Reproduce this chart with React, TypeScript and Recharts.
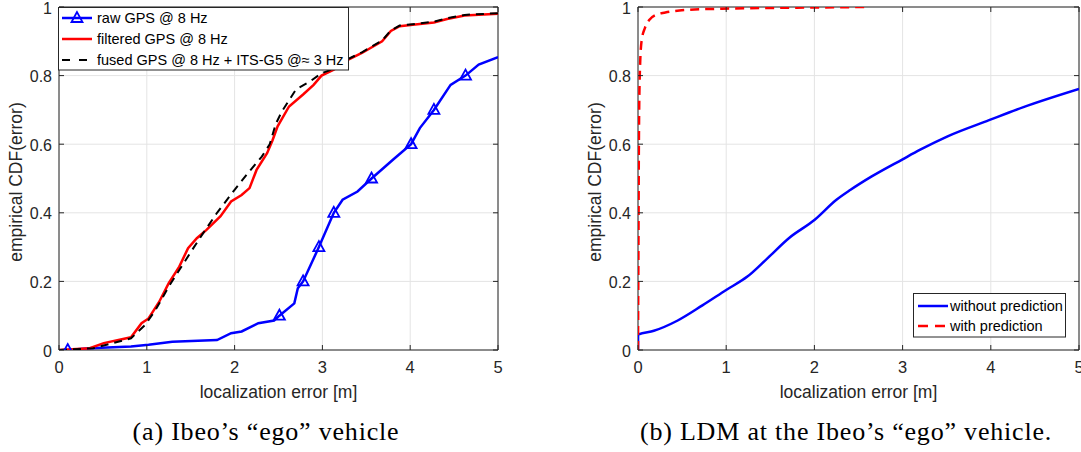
import React from "react";
import {
  ComposedChart,
  Line,
  XAxis,
  YAxis,
  CartesianGrid,
  ReferenceArea,
} from "recharts";

// (a) Ibeo's "ego" vehicle
const rawErr = [0.1, 0.35, 0.82, 1.02, 1.29, 1.8, 1.96, 2.08, 2.27, 2.45, 2.51, 2.68, 2.72, 2.78, 2.96, 3.13, 3.23, 3.4, 3.56, 3.8, 4.01, 4.11, 4.27, 4.46, 4.63, 4.78, 5.0];
const rawCdf = [0, 0.005, 0.01, 0.015, 0.024, 0.029, 0.049, 0.054, 0.078, 0.086, 0.1, 0.136, 0.18, 0.2, 0.3, 0.4, 0.438, 0.462, 0.5, 0.554, 0.6, 0.647, 0.7, 0.773, 0.8, 0.832, 0.854];
const rawMarkErr = [0.1, 2.51, 2.78, 2.96, 3.13, 3.56, 4.01, 4.27, 4.63];
const rawMarkCdf = [0, 0.1, 0.2, 0.3, 0.4, 0.5, 0.6, 0.7, 0.8];

const filtErr = [0, 0.35, 0.51, 0.82, 0.94, 1.02, 1.14, 1.25, 1.37, 1.47, 1.57, 1.68, 1.84, 1.96, 2.08, 2.17, 2.25, 2.37, 2.43, 2.49, 2.62, 2.78, 2.9, 2.99, 3.13, 3.29, 3.45, 3.68, 3.78, 3.88, 4.03, 4.27, 4.42, 4.62, 5.0];
const filtCdf = [0, 0.005, 0.02, 0.037, 0.078, 0.092, 0.14, 0.195, 0.243, 0.297, 0.326, 0.35, 0.39, 0.433, 0.452, 0.472, 0.525, 0.574, 0.61, 0.652, 0.71, 0.745, 0.773, 0.8, 0.817, 0.846, 0.866, 0.9, 0.93, 0.944, 0.948, 0.955, 0.965, 0.975, 0.98];

const fusedErr = [0, 0.39, 0.82, 0.98, 1.1, 1.25, 1.37, 1.53, 1.64, 1.8, 2.0, 2.15, 2.31, 2.4, 2.47, 2.54, 2.7, 2.86, 2.99, 3.13, 3.29, 3.45, 3.68, 3.78, 3.88, 4.03, 4.27, 4.42, 4.62, 5.0];
const fusedCdf = [0, 0.005, 0.034, 0.073, 0.117, 0.185, 0.233, 0.297, 0.34, 0.4, 0.467, 0.515, 0.564, 0.6, 0.66, 0.696, 0.76, 0.783, 0.807, 0.82, 0.848, 0.868, 0.902, 0.932, 0.946, 0.95, 0.957, 0.967, 0.977, 0.982];

// (b) LDM at the Ibeo's "ego" vehicle
const noPredErr = [0, 0.001, 0.18, 0.45, 0.73, 1.0, 1.24, 1.47, 1.71, 2.0, 2.25, 2.41, 2.65, 3.0, 3.2, 3.51, 3.98, 4.37, 5.0];
const noPredCdf = [0, 0.045, 0.056, 0.086, 0.13, 0.175, 0.214, 0.268, 0.326, 0.379, 0.438, 0.467, 0.506, 0.556, 0.584, 0.623, 0.67, 0.708, 0.761];

const predErr = [0, 0.005, 0.01, 0.02, 0.04, 0.08, 0.13, 0.2, 0.31, 0.58, 0.95, 1.8, 2.6];
const predCdf = [0, 0.3, 0.6, 0.8, 0.9, 0.94, 0.963, 0.977, 0.984, 0.992, 0.995, 0.998, 1.0];

const xTicks = [0, 1, 2, 3, 4, 5];
const yTicks = [0, 0.2, 0.4, 0.6, 0.8, 1];

const toPoints = (xs: number[], ys: number[]) => xs.map((x, i) => ({ x, y: ys[i] }));

const SANS = "'Liberation Sans', Arial, Helvetica, sans-serif";
const SERIF = "'Liberation Serif', 'Times New Roman', serif";
const INK = "#262626";
const PLOT_TOP = 7;
const PLOT_BOTTOM = 350;
const X_AXIS_H = 30;
const Y_AXIS_W = 50;

function Triangle({ cx, cy }: { cx: number; cy: number }) {
  return (
    <polygon
      points={`${cx},${cy - 6} ${cx - 5.5},${cy + 4} ${cx + 5.5},${cy + 4}`}
      fill="none"
      stroke="#0000ff"
      strokeWidth={1.8}
    />
  );
}

type PanelProps = {
  left: number;
  width: number;
  plotLeft: number;
  plotRight: number;
  children: React.ReactNode;
};

function CdfPanel({ left, width, plotLeft, plotRight, children }: PanelProps) {
  const xTick = (p: any) => (
    <g key={`xt-${p.payload.value}`}>
      <line x1={p.x} x2={p.x} y1={PLOT_BOTTOM} y2={PLOT_BOTTOM - 5} stroke={INK} />
      <line x1={p.x} x2={p.x} y1={PLOT_TOP} y2={PLOT_TOP + 5} stroke={INK} />
      <text x={p.x} y={373} textAnchor="middle" fontSize={16.5} fontFamily={SANS} fill={INK}>
        {String(p.payload.value)}
      </text>
    </g>
  );
  const yTick = (p: any) => (
    <g key={`yt-${p.payload.value}`}>
      <line x1={plotLeft} x2={plotLeft + 5} y1={p.y} y2={p.y} stroke={INK} />
      <line x1={plotRight} x2={plotRight - 5} y1={p.y} y2={p.y} stroke={INK} />
      <text x={plotLeft - 7} y={p.y + 6.5} textAnchor="end" fontSize={16} fontFamily={SANS} fill={INK}>
        {String(p.payload.value)}
      </text>
    </g>
  );
  return (
    <div style={{ position: "absolute", left, top: 0 }}>
      <ComposedChart
        width={width}
        height={452}
        margin={{
          top: PLOT_TOP,
          right: width - plotRight,
          bottom: 452 - PLOT_BOTTOM - X_AXIS_H,
          left: plotLeft - Y_AXIS_W,
        }}
      >
        <CartesianGrid stroke="#e4e4e4" />
        <XAxis
          type="number"
          dataKey="x"
          domain={[0, 5]}
          ticks={xTicks}
          interval={0}
          allowDataOverflow
          height={X_AXIS_H}
          axisLine={false}
          tickLine={false}
          tick={xTick}
        />
        <YAxis
          type="number"
          domain={[0, 1]}
          ticks={yTicks}
          interval={0}
          allowDataOverflow
          width={Y_AXIS_W}
          axisLine={false}
          tickLine={false}
          tick={yTick}
        />
        <ReferenceArea x1={0} x2={5} y1={0} y2={1} fill="none" stroke={INK} strokeWidth={1} />
        {children}
      </ComposedChart>
    </div>
  );
}

export default function App() {
  const rawPts = toPoints(rawErr, rawCdf);
  const markPts = toPoints(rawMarkErr, rawMarkCdf);
  const filtPts = toPoints(filtErr, filtCdf);
  const fusedPts = toPoints(fusedErr, fusedCdf);
  const noPredPts = toPoints(noPredErr, noPredCdf);
  const predPts = toPoints(predErr, predCdf);

  return (
    <div style={{ position: "fixed", left: 0, top: 0, width: 1081, height: 452, background: "#fff" }}>
      <CdfPanel left={0} width={540} plotLeft={59} plotRight={498}>
        <Line data={rawPts} dataKey="y" type="linear" stroke="#0000ff" strokeWidth={2.5} dot={false} activeDot={false} isAnimationActive={false} />
        <Line data={filtPts} dataKey="y" type="linear" stroke="#ff0000" strokeWidth={2.5} dot={false} activeDot={false} isAnimationActive={false} />
        <Line data={fusedPts} dataKey="y" type="linear" stroke="#000000" strokeWidth={2} strokeDasharray="8 6" dot={false} activeDot={false} isAnimationActive={false} />
        <Line
          data={markPts}
          dataKey="y"
          stroke="none"
          activeDot={false}
          isAnimationActive={false}
          dot={(p: any) => <Triangle key={`m-${p.index}`} cx={p.cx} cy={p.cy} />}
        />
      </CdfPanel>
      <CdfPanel left={540} width={541} plotLeft={98} plotRight={539}>
        <Line data={noPredPts} dataKey="y" type="monotone" stroke="#0000ff" strokeWidth={2.5} dot={false} activeDot={false} isAnimationActive={false} />
        <Line data={predPts} dataKey="y" type="monotone" stroke="#ff0000" strokeWidth={2.5} strokeDasharray="9 6" dot={false} activeDot={false} isAnimationActive={false} />
      </CdfPanel>

      <svg width={1081} height={452} style={{ position: "absolute", left: 0, top: 0, pointerEvents: "none" }}>
        <g fontFamily={SANS} fill={INK} fontSize={17.5}>
          <text transform="translate(22,182) rotate(-90)" textAnchor="middle">empirical CDF(error)</text>
          <text transform="translate(601,182) rotate(-90)" textAnchor="middle">empirical CDF(error)</text>
          <text x={278.5} y={398} textAnchor="middle">localization error [m]</text>
          <text x={858.5} y={398} textAnchor="middle">localization error [m]</text>
        </g>
        <g fontFamily={SERIF} fill="#000" fontSize={26} letterSpacing={0.8}>
          <text x={266} y={440} textAnchor="middle">(a) Ibeo’s “ego” vehicle</text>
          <text x={846} y={440} textAnchor="middle">(b) LDM at the Ibeo’s “ego” vehicle.</text>
        </g>

        {/* legend (a) */}
        <rect x={58.5} y={7.5} width={290} height={62.5} fill="#fff" stroke={INK} />
        <g fontFamily={SANS} fontSize={14.5} fill="#000">
          <line x1={62} x2={92} y1={18} y2={18} stroke="#0000ff" strokeWidth={2.5} />
          <Triangle cx={77} cy={18} />
          <text x={97} y={23.2}>raw GPS @ 8 Hz</text>
          <line x1={62} x2={92} y1={39} y2={39} stroke="#ff0000" strokeWidth={2.5} />
          <text x={97} y={44.2}>filtered GPS @ 8 Hz</text>
          <line x1={62} x2={92} y1={60} y2={60} stroke="#000" strokeWidth={2} strokeDasharray="8 9" />
          <text x={97} y={65.2}>fused GPS @ 8 Hz + ITS-G5 @≈ 3 Hz</text>
        </g>

        {/* legend (b) */}
        <rect x={913.5} y={293.5} width={152} height={43.5} fill="#fff" stroke={INK} />
        <g fontFamily={SANS} fontSize={14.5} fill="#000">
          <line x1={918} x2={948} y1={306} y2={306} stroke="#0000ff" strokeWidth={2.5} />
          <text x={950} y={311.2}>without prediction</text>
          <line x1={918} x2={948} y1={326} y2={326} stroke="#ff0000" strokeWidth={2.5} strokeDasharray="10 7" />
          <text x={950} y={331.2}>with prediction</text>
        </g>
      </svg>
    </div>
  );
}
